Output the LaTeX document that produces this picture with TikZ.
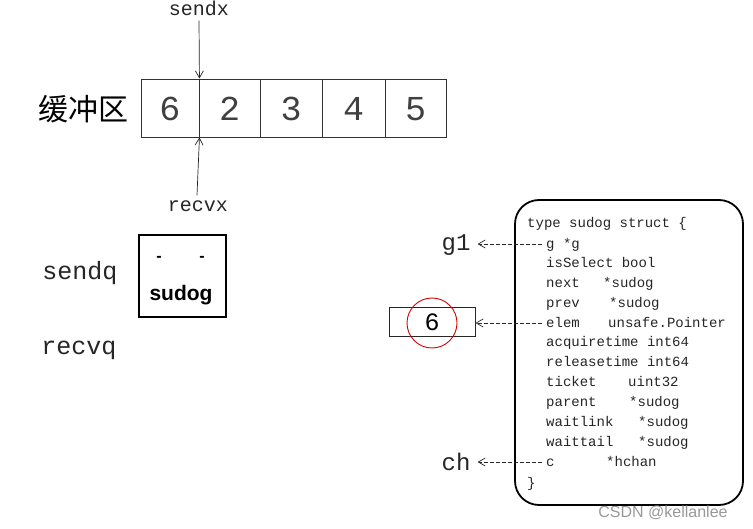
\documentclass[tikz,border=0pt]{standalone}
\usepackage{fontspec}
\usetikzlibrary{arrows.meta}
\newfontfamily\monof{Liberation Mono}
\newfontfamily\sansf{Liberation Sans}
\newfontfamily\cjkf{Noto Sans CJK SC}
\begin{document}
\begin{tikzpicture}[x=1pt,y=-1pt,
  cell/.style={draw=black!80, line width=0.9pt, minimum height=58pt, inner sep=0pt, text height=25pt, text depth=0pt, text=black!75, font=\monof\fontsize{35}{40}\selectfont},
  lbl/.style={inner sep=1pt, font=\monof\fontsize{20}{22}\selectfont, text=black!85},
  qlbl/.style={inner sep=1pt, font=\monof\fontsize{25}{28}\selectfont, text=black!85},
  glbl/.style={inner sep=1pt, font=\monof\fontsize{24}{26}\selectfont, text=black!85},
  code/.style={anchor=base west, inner sep=0pt, font=\monof\fontsize{14}{16}\selectfont, text=black!85},
  ptr/.style={-{Straight Barb[length=7pt,width=8pt]}, line width=0.7pt, black!85},
  dptr/.style={ptr, dash pattern=on 4pt off 2pt}]
\useasboundingbox (0,0) rectangle (753,529);
\fill[white] (0,0) rectangle (753,529);

% buffer
\node[inner sep=0pt, font=\cjkf\fontsize{30}{32}\selectfont] (buf) at (83,109) {缓冲区};
\node[cell, minimum width=58pt] (c1) at (170,108) {6};
\node[cell, minimum width=61pt] (c2) at (229.5,108) {2};
\node[cell, minimum width=62pt] (c3) at (291,108) {3};
\node[cell, minimum width=63pt] (c4) at (353.5,108) {4};
\node[cell, minimum width=61pt] (c5) at (415.5,108) {5};

\node[lbl] (sendx) at (199,8) {sendx};
\node[lbl] (recvx) at (198,206) {recvx};
\draw[ptr] (sendx.south) ++(0,4) coordinate (sx) -- (c1.north east);
\draw[ptr] (recvx.north) ++(-1,-4) coordinate (rx) -- (c1.south east);

% queues
\node[qlbl] (sendq) at (80,273) {sendq};
\node[qlbl] (recvq) at (79,350) {recvq};
\node[draw, line width=1.3pt, minimum width=87pt, minimum height=82pt, inner sep=0pt] (sud) at (182.5,276) {};
\node[inner sep=0pt, font=\sansf\bfseries\fontsize{16}{18}\selectfont] (d1) at (159,259) {-};
\node[inner sep=0pt, font=\sansf\bfseries\fontsize{16}{18}\selectfont] (d2) at (202,259) {-};
\node[inner sep=0pt, font=\sansf\bfseries\fontsize{21}{24}\selectfont] (sudtxt) at (181,295) {sudog};

% struct box
\node[draw, line width=1.8pt, rounded corners=24pt, minimum width=228pt, minimum height=305pt, inner sep=0pt] (sbox) at (629,352.5) {};
\node[code] (t0) at (527,227.5) {type sudog struct \{};
\node[code] (fg) at (546,248.5) {g *g};
\node[code] (fsel) at (546,267.5) {isSelect bool};
\node[code] (fnext) at (546,287.5) {next};
\node[code] (tnext) at (603,287.5) {*sudog};
\node[code] (fprev) at (546,307.5) {prev};
\node[code] (tprev) at (609,307.5) {*sudog};
\node[code] (felem) at (546,327.5) {elem};
\node[code] (telem) at (608,327.5) {unsafe.Pointer};
\node[code] (facq) at (546,346.5) {acquiretime int64};
\node[code] (frel) at (546,366.5) {releasetime int64};
\node[code] (ftick) at (546,386.5) {ticket};
\node[code] (ttick) at (628,386.5) {uint32};
\node[code] (fpar) at (546,406.5) {parent};
\node[code] (tpar) at (629,406.5) {*sudog};
\node[code] (fwl) at (546,426.5) {waitlink};
\node[code] (twl) at (638,426.5) {*sudog};
\node[code] (fwt) at (546,446.5) {waittail};
\node[code] (twt) at (638,446.5) {*sudog};
\node[code] (fc) at (546,466.5) {c};
\node[code] (tc) at (606,466.5) {*hchan};
\node[code] (tend) at (527,487.5) {\}};

% targets
\node[glbl] (g1) at (456,245) {g1};
\node[glbl] (ch) at (456,462) {ch};
\node[draw=black!85, line width=0.9pt, minimum width=86pt, minimum height=29pt, inner sep=0pt, text height=18pt, text depth=0pt, font=\monof\fontsize{25}{26}\selectfont] (six) at (432,321.5) {6};
\node[draw=red!85!black, line width=0.9pt, circle, minimum size=50pt, inner sep=0pt] (ring) at (432,323) {};

\draw[dptr] ([xshift=-4pt,yshift=4.5pt]fg.base west) coordinate (a1) -- ([xshift=6pt]g1.east |- a1);
\draw[dptr] ([xshift=-4pt,yshift=4.5pt]felem.base west) coordinate (a2) -- (six.east |- a2);
\draw[dptr] ([xshift=-4pt,yshift=4.5pt]fc.base west) coordinate (a3) -- ([xshift=6pt]ch.east |- a3);

\node[inner sep=0pt, font=\sansf\fontsize{16}{18}\selectfont, text=black!40] (wm) at (663,513) {CSDN @kellanlee};
\end{tikzpicture}
\end{document}
